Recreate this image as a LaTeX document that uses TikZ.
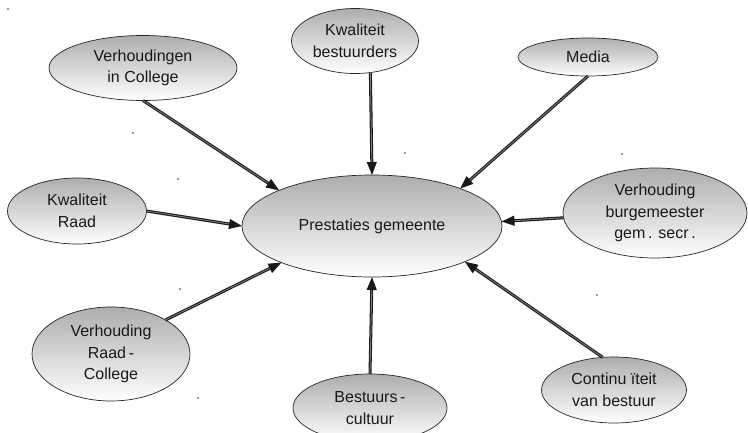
\documentclass[tikz,border=0pt]{standalone}
\usepackage{fontspec}
\setmainfont{Liberation Sans}
\usetikzlibrary{shapes.geometric,arrows.meta}

\tikzset{
  bubble/.style={ellipse, draw=black!85, line width=0.7pt,
    top color=black!32, bottom color=white, inner sep=0pt, outer sep=0pt,
    align=center, font=\fontsize{16}{21.5}\selectfont, text=black!90},
  conn/.style={draw=black!90, line width=1.1pt, double=black!50,
    double distance=0.8pt,
    -{Triangle[length=13pt,width=10pt,fill=black!90]}},
  speck/.style={fill=black!80, inner sep=0pt, minimum size=1.6pt, circle}
}

\begin{document}
\begin{tikzpicture}[x=1pt,y=-1pt]
\useasboundingbox (0,0) rectangle (748,432);
\clip (0,0) rectangle (748,432);

% central factor
\node[bubble, minimum width=260pt, minimum height=102pt] (pg) at (372,226) {\raisebox{-6pt}{Prestaties gemeente}};

% surrounding factors
\node[bubble, minimum width=188pt, minimum height=65pt] (vic) at (143,68) {Verhoudingen\\in College};
\node[bubble, minimum width=127pt, minimum height=65pt] (kb) at (355,41) {Kwaliteit\\bestuurders};
\node[bubble, minimum width=140pt, minimum height=38pt] (med) at (588,57) {Media};
\node[bubble, minimum width=139pt, minimum height=66pt] (kr) at (77,211) {Kwaliteit\\Raad};
\node[bubble, minimum width=184pt, minimum height=90pt] (vb) at (655,213) {Verhouding\\burgemeester\\gem\,. secr\,.};
\node[bubble, minimum width=158pt, minimum height=94pt] (rc) at (111,354) {Verhouding\\Raad\,-\\College};
\node[bubble, minimum width=154pt, minimum height=68pt] (bc) at (370,408) {Bestuurs\,-\\cultuur};
\node[bubble, minimum width=145pt, minimum height=66pt] (ct) at (614,390) {Continu ïteit\\van bestuur};

% influences on the central factor
\draw[conn] (vic.-90) -- (pg.159);
\draw[conn] (kb.-64) -- (pg.90);
\draw[conn] (med.-90) -- (pg.23);
\draw[conn] (kr.0) -- (pg.180);
\draw[conn] (vb.183) -- (pg.2);
\draw[conn] (rc.32) -- (pg.202);
\draw[conn] (bc.90) -- (pg.-90);
\draw[conn] (ct.109) -- (pg.-21);

% stray specks
\foreach \p in {(8,9),(133,133),(178,179),(180,289),(198,398),(405,153),(622,154),(597,295)}
  \node[speck] at \p {};
\end{tikzpicture}
\end{document}
